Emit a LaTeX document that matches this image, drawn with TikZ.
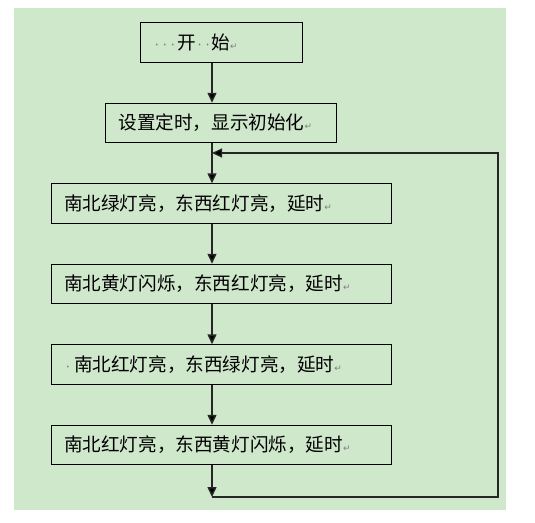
\documentclass[tikz,border=0pt]{standalone}
\usepackage{fontspec}
\usepackage{tikz}
\usetikzlibrary{positioning, arrows.meta}
\usepackage{xcolor}
\newfontfamily\cjk{Noto Sans CJK SC}
\newfontfamily\symfont{DejaVu Sans}
\definecolor{bggreen}{RGB}{207, 231, 203}
\newcommand\spmark{\makebox[8pt]{\symfont\fontsize{13}{13}\selectfont\color{black!55}·}}
\newcommand\retmark{{\symfont\fontsize{9}{9}\selectfont\color{black!50}↵}}

\begin{document}
\begin{tikzpicture}[
        x=1pt, y=-1pt,
        node distance = 40pt,
        box/.style = {draw, line width=1pt, minimum height=39.5pt, inner xsep=13pt, inner ysep=0pt, align=left, font=\cjk\fontsize{18.6}{20}\selectfont},
        arrow/.style = {-{Triangle[length=10pt, width=9pt, fill=black]}, line width=1.5pt, draw=black!85},
    ]
        \useasboundingbox (0,0) rectangle (535,522);
        \fill[bggreen] (14,8) rectangle (506,510);
        \node[box, text width=136pt] (start) at (221,42.5) {\spmark\spmark\spmark 开\spmark\spmark 始\retmark};
        \node[box, text width=205pt, below=of start] (setup) {设置定时，显示初始化\retmark};
        \node[box, text width=314pt, below=of setup] (ngreen) {南北绿灯亮，东西红灯亮，延时\retmark};
        \node[box, text width=314pt, below=of ngreen] (nyellow) {南北黄灯闪烁，东西红灯亮，延时\retmark};
        \node[box, text width=314pt, below=of nyellow] (egreen) {\spmark\hspace{2pt}南北红灯亮，东西绿灯亮，延时\retmark};
        \node[box, text width=314pt, below=of egreen] (eyellow) {南北红灯亮，东西黄灯闪烁，延时\retmark};
        \coordinate (trunk) at (212,0);
        \coordinate (join) at (212,153);
        \coordinate (edge) at (498,153);
        \coordinate (ret) at (212,497);
        \draw[arrow] (start.south -| trunk) -- (setup.north -| trunk);
        \draw[arrow] (setup.south -| trunk) -- (ngreen.north -| trunk);
        \draw[arrow] (ngreen.south -| trunk) -- (nyellow.north -| trunk);
        \draw[arrow] (nyellow.south -| trunk) -- (egreen.north -| trunk);
        \draw[arrow] (egreen.south -| trunk) -- (eyellow.north -| trunk);
        \draw[arrow] (eyellow.south -| trunk) -- (ret);
        \draw[arrow, line width=1.2pt] (ret) -| (edge) -- (join);
    \end{tikzpicture}
\end{document}
